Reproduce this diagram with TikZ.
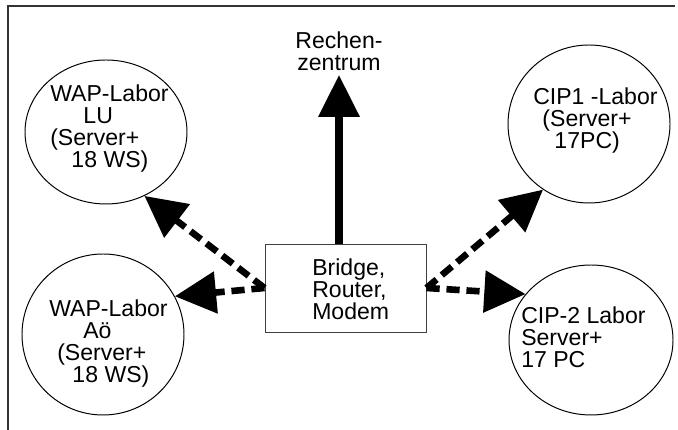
\documentclass[tikz,border=0pt]{standalone}
\usepackage{fontspec}
\setmainfont{Liberation Sans}
\usetikzlibrary{arrows.meta,shapes.geometric}

\begin{document}
\begin{tikzpicture}[
        station/.style = {draw, ellipse, line width=0.7pt, inner sep=0pt},
        txt/.style = {inner sep=0pt, anchor=north west, align=left,
                      font=\fontsize{16.4}{15.6}\selectfont},
        link/.style = {-{Triangle[length=1.03cm, width=1.02cm]}, line width=4.7pt,
                       dash pattern=on 0.33cm off 0.17cm},
        uplink/.style = {-{Triangle[length=1.05cm, width=1cm]}, line width=5pt}
    ]
    \useasboundingbox (0,0) rectangle (16.95,10.75);
    \draw[line width=0.8pt, black!80] (0.2,0) -- (0.2,10.6) -- (16.875,10.6);

    % the four labs
    \node[station, minimum width=4.05cm, minimum height=3.6cm]   (lu)   at (2.65,7.45)    {};
    \node[station, minimum width=4.05cm, minimum height=4.025cm] (ao)   at (2.575,2.3875) {};
    \node[station, minimum width=4.05cm, minimum height=3.95cm]  (cip1) at (14.725,7.65)  {};
    \node[station, minimum width=4.1cm,  minimum height=3.75cm]  (cip2) at (14.775,2.25)  {};

    \node[txt] (lu-text)   at (1.25,8.64)   {WAP-Labor\\\hspace*{0.83cm}LU\\(Server+\\\hspace*{0.53cm}18 WS)};
    \node[txt] (ao-text)   at (1.225,3.265) {WAP-Labor\\\hspace*{0.85cm}A\"o\\\hspace*{0.2cm}(Server+\\\hspace*{0.58cm}18 WS)};
    \node[txt] (cip1-text) at (13.325,8.565) {CIP1 -Labor\\\hspace*{0.23cm}(Server+\\\hspace*{0.53cm}17PC)};
    \node[txt] (cip2-text) at (13.025,3.09) {CIP-2 Labor\\Server+\\17 PC};

    % bridge in the middle
    \node[draw, line width=0.7pt, black!75, minimum width=4.025cm, minimum height=2.2cm] (box) at (8.6375,3.55) {};
    \node[txt] (box-text) at (7.8,4.29) {Bridge,\\Router,\\Modem};

    \node[txt, anchor=south, align=center] (rz) at (8.475,8.975) {Rechen-\\zentrum};

    \draw[uplink, shorten >=0.1cm] (rz.south |- box.north) -- (rz.south);

    \draw[link] (box.west) -- (lu.-59);
    \draw[link] (box.west) -- (ao.28);
    \draw[link] (box.east) -- (cip1.-125);
    \draw[link] (box.east) -- (cip2.145);

\end{tikzpicture}
\end{document}
